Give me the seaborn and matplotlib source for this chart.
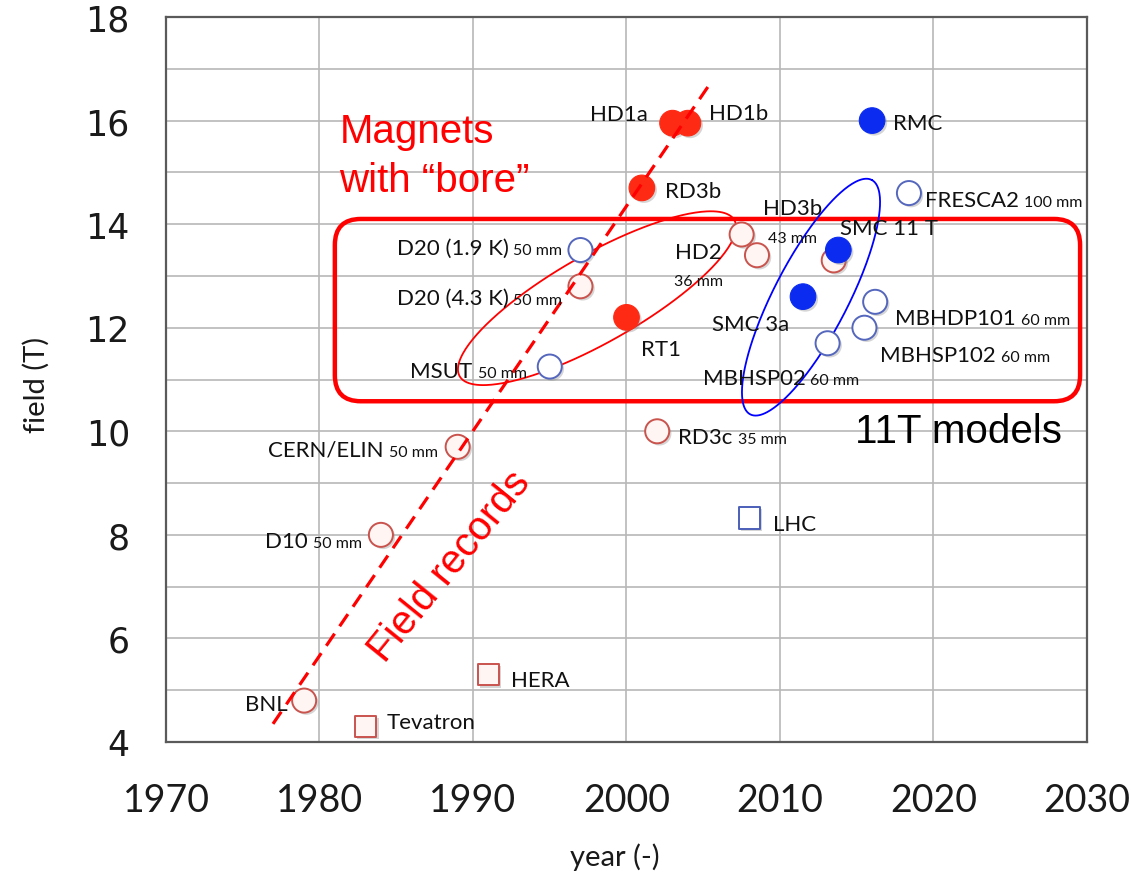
import matplotlib
matplotlib.use("Agg")
import numpy as np
import pandas as pd
import matplotlib.pyplot as plt
import matplotlib.patheffects as pe
from matplotlib.patches import FancyBboxPatch
from matplotlib.transforms import ScaledTranslation
import seaborn as sns

# ---- data -----------------------------------------------------------------
magnets = ["BNL", "Tevatron", "HERA", "D10", "CERN/ELIN", "MSUT",
           "D20 (4.3 K)", "D20 (1.9 K)", "RT1", "RD3c", "RD3b", "HD1a",
           "HD1b", "HD2", "HD3b", "", "SMC 11 T", "SMC 3a", "MBHSP02",
           "MBHDP101", "MBHSP102", "FRESCA2", "RMC", "LHC"]
bores = ["", "", "", "50 mm", "50 mm", "50 mm", "50 mm", "50 mm", "",
         "35 mm", "", "", "", "36 mm", "43 mm", "", "", "", "60 mm",
         "60 mm", "60 mm", "100 mm", "", ""]
years = [1979, 1983, 1991, 1984, 1989, 1995, 1997, 1997, 2000, 2002,
         2001, 2003, 2004, 2007.5, 2008.5, 2013.5, 2013.8, 2011.5, 2013.1,
         2016.2, 2015.5, 2018.4, 2016, 2008]
fields = [4.8, 4.3, 5.3, 8.0, 9.7, 11.25, 12.8, 13.5, 12.2, 10.0, 14.7,
          15.95, 15.95, 13.8, 13.4, 13.3, 13.5, 12.6, 11.7, 12.5, 12.0,
          14.6, 16.0, 8.33]
kinds = ["open_red", "square_red", "square_red", "open_red", "open_red",
         "open_blue", "open_red", "open_blue", "filled_red", "open_red",
         "filled_red", "filled_red", "filled_red", "open_red", "open_red",
         "open_red", "filled_blue", "filled_blue", "open_blue", "open_blue",
         "open_blue", "open_blue", "filled_blue", "square_blue"]

record_years = [1976.97, 2005.3]
record_fields = [4.35, 16.65]

x_ticks = [1970, 1980, 1990, 2000, 2010, 2020, 2030]
y_ticks = [4, 6, 8, 10, 12, 14, 16, 18]

df = pd.DataFrame({"magnet": magnets, "bore": bores, "year": years,
                   "field": fields, "kind": kinds})

# ---- styles ---------------------------------------------------------------
styles = {
    "open_red":    dict(marker="o", s=300, facecolor="#fff5f3", edgecolor="#c9534d", linewidth=1.4),
    "open_blue":   dict(marker="o", s=300, facecolor="#ffffff", edgecolor="#5567bd", linewidth=1.4),
    "filled_red":  dict(marker="o", s=340, facecolor="#ff2a14", edgecolor="#ff2a14", linewidth=0.8),
    "filled_blue": dict(marker="o", s=340, facecolor="#0b2cf0", edgecolor="#0b2cf0", linewidth=0.8),
    "square_red":  dict(marker="s", s=240, facecolor="#fff5f3", edgecolor="#c9534d", linewidth=1.4),
    "square_blue": dict(marker="s", s=240, facecolor="#ffffff", edgecolor="#4a5fb8", linewidth=1.4),
}

# label placement (pixels; dx right, dy down, baseline)
label_layout = {
    "BNL": ("right", -17, 9), "Tevatron": ("left", 21, 2),
    "HERA": ("left", 23, 11), "D10": ("right", -19, 12),
    "CERN/ELIN": ("right", -20, 9), "MSUT": ("right", -23, 10),
    "D20 (4.3 K)": ("right", -18, 18), "D20 (1.9 K)": ("right", -18, 4),
    "RT1": ("left", 15, 38), "RD3c": ("left", 21, 12),
    "RD3b": ("left", 23, 9), "HD1a": ("right", -25, -3),
    "HD1b": ("left", 21, -4), "HD2": ("below", -43, 24, 51),
    "HD3b": ("below", 36, -41, -13), "SMC 11 T": ("left", 2, -16),
    "SMC 3a": ("right", -14, 33), "MBHSP02": ("left", -125, 41),
    "MBHDP101": ("left", 20, 22), "MBHSP102": ("left", 16, 33),
    "FRESCA2": ("left", 16, 13), "RMC": ("left", 21, 8),
    "LHC": ("left", 24, 12),
}

DPI = 100
sns.set_style("white")
plt.rcParams["font.family"] = ["Lato", "DejaVu Sans"]

fig = plt.figure(figsize=(11.31, 8.79), dpi=DPI)
ax = fig.add_axes([166 / 1131, 1 - 743 / 879, 921 / 1131, 725 / 879])
ax.set_xlim(1970, 2030)
ax.set_ylim(4, 18)

# grid
ax.set_xticks(x_ticks)
ax.set_yticks(y_ticks)
ax.set_yticks(np.arange(5, 18, 2), minor=True)
ax.grid(True, which="both", color="#b8b8b8", linewidth=1.2, zorder=0)
ax.set_axisbelow(True)
for sp in ax.spines.values():
    sp.set_color("#5a5a5a")
    sp.set_linewidth(1.6)
ax.tick_params(axis="both", which="both", length=0)
ax.tick_params(axis="x", pad=29, labelsize=27, labelcolor="#1a1a1a")
ax.tick_params(axis="y", pad=26, labelsize=25, labelcolor="#1a1a1a")
for lab in ax.get_yticklabels():
    lab.set_fontfamily("DejaVu Sans")

ax.set_xlabel("year (-)", fontsize=21, color="#1a1a1a")
ax.set_ylabel("field (T)", fontsize=21, color="#1a1a1a")
ax.xaxis.set_label_coords((615 - 166) / 921, (743 - 857) / 725)
ax.yaxis.label.set_verticalalignment("center")
ax.xaxis.label.set_verticalalignment("center")
ax.yaxis.set_label_coords((36 - 166) / 921, (743 - 385) / 725)

# pixel scale of the axes
px_per_year = ax.transData.transform((1971, 0))[0] - ax.transData.transform((1970, 0))[0]
px_per_tesla = ax.transData.transform((0, 5))[1] - ax.transData.transform((0, 4))[1]
k = px_per_tesla / px_per_year

# markers
shadow = [pe.SimplePatchShadow(offset=(1.6, -1.6), shadow_rgbFace="#888888", alpha=0.35), pe.Normal()]
for kind in ["square_red", "square_blue", "open_red", "open_blue", "filled_red", "filled_blue"]:
    sub = df[df["kind"] == kind]
    st = styles[kind]
    sns.scatterplot(data=sub, x="year", y="field", ax=ax, zorder=4,
                    marker=st["marker"], s=st["s"], color=st["facecolor"],
                    edgecolor=st["edgecolor"], linewidth=st["linewidth"], legend=False)
for coll in ax.collections:
    coll.set_path_effects(shadow)

# field-record trend
ax.plot(record_years, record_fields, color="#ff0000", linewidth=2.3,
        linestyle=(0, (4.6, 2.8)), zorder=5)

# rounded frame around the 11-14 T magnets
box_x0, box_x1, box_y0, box_y1 = 1981.0, 2029.55, 10.58, 14.10
r_px = 26
box = FancyBboxPatch((box_x0, box_y0), box_x1 - box_x0, box_y1 - box_y0,
                     boxstyle=f"round,pad=0,rounding_size={r_px / px_per_year}",
                     mutation_aspect=1 / k, facecolor="none",
                     edgecolor="#ff0000", linewidth=3.2, zorder=3, clip_on=False)
ax.add_patch(box)


def ellipse(cx, cy, a, b, angle_deg, color):
    t = np.linspace(0, 2 * np.pi, 300)
    th = np.deg2rad(angle_deg)
    u, v = a * np.cos(t), b * np.sin(t)
    X = u * np.cos(th) - v * np.sin(th)
    Y = u * np.sin(th) + v * np.cos(th)
    ax.plot(cx + X, cy + Y / k, color=color, linewidth=1.3, zorder=3)


ellipse(1998.08, 12.57, 158 / px_per_year, 44 / px_per_year, 29.6, "#ff0000")
ellipse(2012.02, 12.59, 132 / px_per_year, 37 / px_per_year, 62.6, "#0000ff")

# annotations
ax.text(1981.3, 15.59, "Magnets", color="#ff0000", fontsize=29,
        family="Liberation Sans", ha="left", va="baseline", zorder=6)
ax.text(1981.3, 14.64, "with \u201cbore\u201d", color="#ff0000", fontsize=29,
        family="Liberation Sans", ha="left", va="baseline", zorder=6)
ax.text(1988.5, 7.4, "Field records", color="#ff0000", fontsize=29,
        family="Liberation Sans", rotation=51, rotation_mode="anchor",
        ha="center", va="center", zorder=6)
ax.text(2014.9, 9.79, "11T models", color="#000000", fontsize=29,
        family="Liberation Sans", ha="left", va="baseline", zorder=6)

# point labels
fig.canvas.draw()
renderer = fig.canvas.get_renderer()


def shifted(dx, dy):
    return ax.transData + ScaledTranslation(dx / DPI, -dy / DPI, fig.dpi_scale_trans)


MAIN, SMALL, GAP = 16, 11.5, 5
for _, row in df.iterrows():
    name, bore, x, y = row["magnet"], row["bore"], row["year"], row["field"]
    if not name:
        continue
    lay = label_layout[name]
    mode, dx, dy = lay[0], lay[1], lay[2]
    kw = dict(va="baseline", color="#111111", zorder=6)
    if mode == "below":
        ax.text(x, y, name, transform=shifted(dx, dy), ha="center", fontsize=MAIN, **kw)
        ax.text(x, y, bore, transform=shifted(dx, lay[3]), ha="center", fontsize=SMALL, **kw)
    elif mode == "left":
        t = ax.text(x, y, name, transform=shifted(dx, dy), ha="left", fontsize=MAIN, **kw)
        if bore:
            w = t.get_window_extent(renderer).width
            ax.text(x, y, bore, transform=shifted(dx + w + GAP, dy), ha="left", fontsize=SMALL, **kw)
    else:
        if bore:
            s = ax.text(x, y, bore, transform=shifted(dx, dy), ha="right", fontsize=SMALL, **kw)
            w = s.get_window_extent(renderer).width
            ax.text(x, y, name, transform=shifted(dx - w - GAP, dy), ha="right", fontsize=MAIN, **kw)
        else:
            ax.text(x, y, name, transform=shifted(dx, dy), ha="right", fontsize=MAIN, **kw)

fig.savefig("out.png", dpi=DPI, facecolor="white")
